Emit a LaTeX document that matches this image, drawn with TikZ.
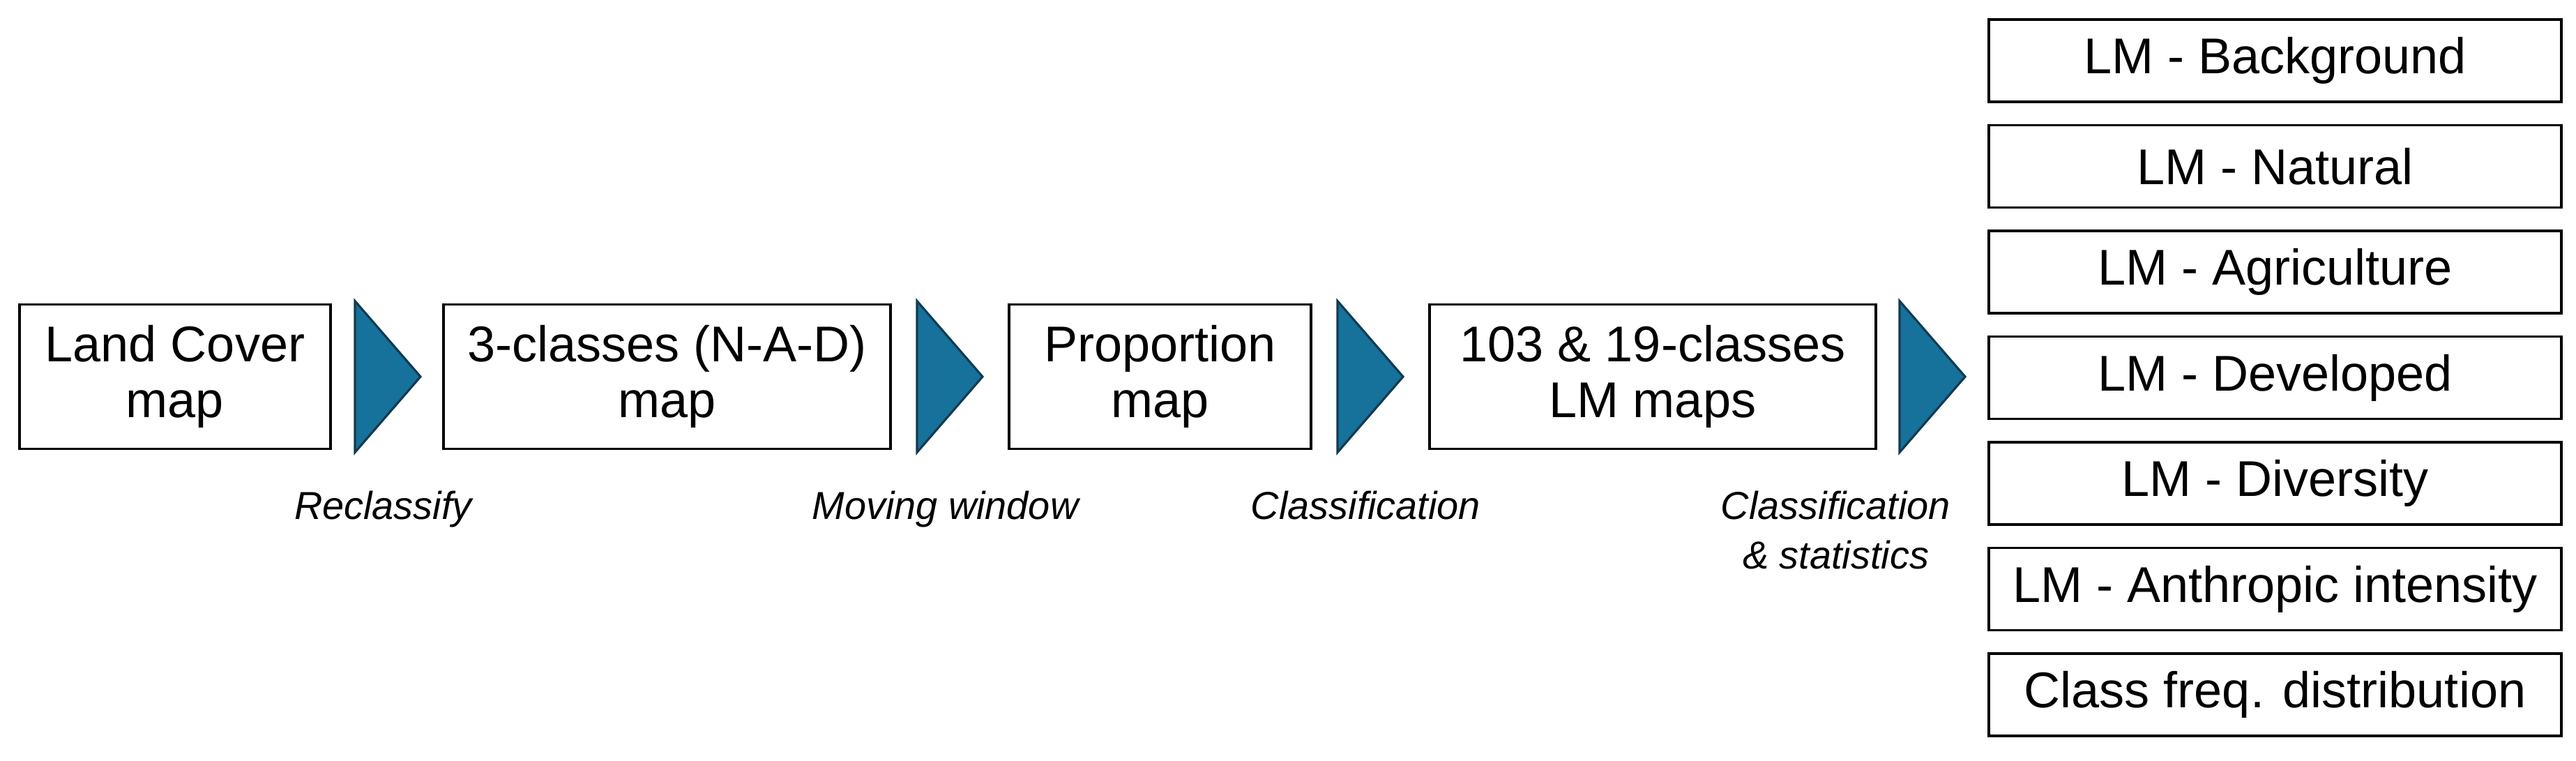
\documentclass[tikz,border=0pt]{standalone}
\usepackage{fontspec}
\setmainfont{Liberation Sans}
\usepackage{tikz}
\usetikzlibrary{shapes.geometric,positioning}

\definecolor{flowblue}{HTML}{16719B}
\definecolor{flowedge}{HTML}{123B50}

\begin{document}
\begin{tikzpicture}[
    mapbox/.style={rectangle, draw, line width=1pt, inner sep=0pt, outer sep=0pt,
        minimum height=2.07cm, align=center,
        font=\fontsize{20.5}{22.8}\selectfont},
    outbox/.style={rectangle, draw, line width=1pt, inner sep=0pt, outer sep=0pt,
        minimum width=8.21cm, minimum height=1.18cm,
        font=\fontsize{20.5}{22.8}\selectfont},
    steptri/.style={isosceles triangle, isosceles triangle stretches,
        shape border rotate=0, fill=flowblue, draw=flowedge, line width=0.9pt,
        minimum width=2.17cm, minimum height=0.94cm, inner sep=0pt, outer sep=0pt},
    steplabel/.style={inner sep=0pt, outer sep=0pt, align=center, anchor=north,
        yshift=-0.6cm, font=\fontsize{15.9}{20.2}\selectfont\itshape}
]
\useasboundingbox (0,0) rectangle (36.94,-10.90);

% main chain
\node[mapbox, minimum width=4.46cm, anchor=west] (lc) at (0.28,-5.40) {Land Cover\\map};
\node[steptri] (t1) [right=0.35cm of lc] {};
\node[mapbox, minimum width=6.41cm] (nad) [right=0.33cm of t1] {3-classes (N-A-D)\\map};
\node[steptri] (t2) [right=0.38cm of nad] {};
\node[mapbox, minimum width=4.33cm] (prop) [right=0.38cm of t2] {Proportion\\map};
\node[steptri] (t3) [right=0.38cm of prop] {};
\node[mapbox, minimum width=6.40cm] (lm) [right=0.38cm of t3] {103 \& 19-classes\\LM maps};
\node[steptri] (t4) [right=0.34cm of lm] {};

% step labels
\node[steplabel] (l1) at (t1 |- lc.south) {Reclassify};
\node[steplabel] (l2) at (t2 |- lc.south) {Moving window};
\node[steplabel] (l3) at (t3 |- lc.south) {Classification};
\node[steplabel, xshift=-1.32cm] (l4) at (t4 |- lc.south) {Classification\\\& statistics};

% outputs
\node[outbox, anchor=north west] (bg) at (28.52,-0.28) {LM - Background};
\node[outbox] (nat) [below=0.335cm of bg] {LM - Natural};
\node[outbox] (agr) [below=0.335cm of nat] {LM - Agriculture};
\node[outbox] (dev) [below=0.335cm of agr] {LM - Developed};
\node[outbox] (div) [below=0.335cm of dev] {LM - Diversity};
\node[outbox] (anth) [below=0.335cm of div] {LM - Anthropic intensity};
\node[outbox] (freq) [below=0.335cm of anth] {Class freq. distribution};
\end{tikzpicture}
\end{document}
